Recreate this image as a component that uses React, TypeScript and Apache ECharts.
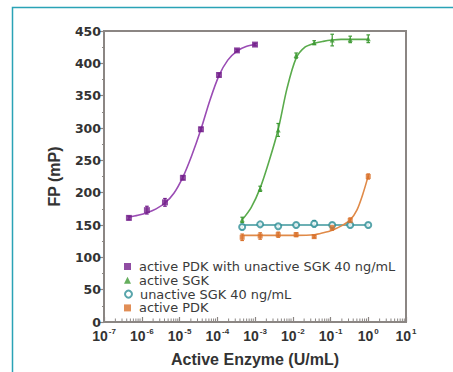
import React, { useEffect, useRef } from "react";
import * as echarts from "echarts";

// ---- data ----
const PDK_SGK_X = [4.57e-7, 1.37e-6, 4.12e-6, 1.23e-5, 3.7e-5, 1.11e-4, 3.33e-4, 1e-3];
const PDK_SGK_Y = [161, 173, 185, 223, 298, 382, 420, 429];
const PDK_SGK_ERR = [3, 6, 6, 3, 3, 3, 2, 2];
// fitted curve
const PDK_SGK_FIT_X = [4.57e-7, 7.9e-7, 1.37e-6, 2.4e-6, 4.12e-6, 7.1e-6, 1.23e-5, 2.1e-5, 3.7e-5, 6.4e-5, 1.11e-4, 1.9e-4, 3.33e-4, 5.8e-4, 1e-3];
const PDK_SGK_FIT_Y = [162, 165, 169, 175, 184, 199, 224, 257, 298, 343, 381, 405, 419, 426, 429];

const SGK_X = [4.57e-4, 1.37e-3, 4.12e-3, 1.23e-2, 3.7e-2, 0.111, 0.333, 1];
const SGK_Y = [158, 206, 297, 412, 432, 436, 437, 438];
const SGK_ERR = [4, 4, 10, 4, 3, 9, 5, 6];
const SGK_FIT_X = [4.57e-4, 7.9e-4, 1.37e-3, 2.4e-3, 4.12e-3, 7.1e-3, 1.23e-2, 2.1e-2, 3.7e-2, 6.4e-2, 0.111, 0.19, 0.333, 0.58, 1];
const SGK_FIT_Y = [158, 177, 207, 250, 298, 362, 408, 425, 431, 434, 436, 437, 437, 437, 437];

const UNSGK_Y = [147, 151, 148, 150, 152, 150, 150, 150];
const UNSGK_ERR = [4, 2, 2, 3, 5, 3, 3, 3];
const UNSGK_FIT = [150, 150, 150, 150, 150, 150, 150, 150];

const PDK_Y = [131, 133, 135, 135, 132, 146, 157, 225];
const PDK_ERR = [5, 5, 4, 3, 2, 4, 4, 4];
const PDK_FIT_X = [4.57e-4, 1.37e-3, 4.12e-3, 1.23e-2, 3.7e-2, 0.0645, 0.111, 0.2, 0.333, 0.5, 0.72, 1];
const PDK_FIT_Y = [134, 134, 134, 134, 135, 138, 142, 149, 158, 173, 198, 226];

const NAMES = [
  "active PDK with unactive SGK 40 ng/mL",
  "active SGK",
  "unactive SGK 40 ng/mL",
  "active PDK",
];
const COLORS = ["#74208c", "#3f9a35", "#2e8f96", "#d9722c"];
const LINE_COLORS = ["#9a4cb4", "#5aab4c", "#3c979c", "#e08a48"];

const X_MIN = 1e-7;
const X_MAX = 10;
const Y_MIN = 0;
const Y_MAX = 450;
const Y_STEP = 50;

const FRAME = "#8b8683";
const TEXT = "#333333";

function pairs(xs: number[], ys: number[]) {
  return xs.map((x, i) => [x, ys[i]]);
}
function errs(xs: number[], ys: number[], es: number[]) {
  return xs.map((x, i) => [x, ys[i] - es[i], ys[i] + es[i]]);
}

function errorSeries(data: number[][], color: string) {
  return {
    type: "custom",
    silent: true,
    z: 3,
    data,
    encode: { x: 0, y: [1, 2] },
    renderItem: (params: any, api: any) => {
      const x = api.value(0);
      const lo = api.coord([x, api.value(1)]);
      const hi = api.coord([x, api.value(2)]);
      const w = 1.8;
      const st = { stroke: color, lineWidth: 1.2 };
      return {
        type: "group",
        children: [
          { type: "line", shape: { x1: lo[0], y1: lo[1], x2: hi[0], y2: hi[1] }, style: st },
          { type: "line", shape: { x1: lo[0] - w, y1: lo[1], x2: lo[0] + w, y2: lo[1] }, style: st },
          { type: "line", shape: { x1: hi[0] - w, y1: hi[1], x2: hi[0] + w, y2: hi[1] }, style: st },
        ],
      };
    },
  };
}

function minorTickValues() {
  const out: number[][] = [];
  for (let e = -7; e < 1; e++) {
    for (let k = 2; k <= 9; k++) out.push([k * Math.pow(10, e), 0]);
  }
  return out;
}

export default function App() {
  const ref = useRef<HTMLDivElement>(null);
  useEffect(() => {
    if (!ref.current) return;
    const chart = echarts.init(ref.current, null, { renderer: "svg" });
    const fitLine = (data: number[][], color: string) => ({
      type: "line",
      data,
      smooth: 0.3,
      showSymbol: false,
      symbol: "none",
      silent: true,
      z: 2,
      lineStyle: { color, width: 1.6 },
    });
    chart.setOption({
      animation: false,
      backgroundColor: "#ffffff",
      textStyle: { fontFamily: "Liberation Sans, Arial, sans-serif" },
      graphic: [
        {
          type: "rect",
          shape: { x: 12.5, y: 7.5, width: 600, height: 600 },
          style: { fill: "none", stroke: "#2aa3b6", lineWidth: 1.5 },
          silent: true,
        },
      ],
      grid: {
        left: 104,
        top: 31,
        right: 47,
        bottom: 45,
        show: true,
        borderColor: FRAME,
        borderWidth: 2,
        backgroundColor: "transparent",
      },
      legend: NAMES.map((n, i) => ({
        left: 124,
        top: 260 + i * 13.8,
        orient: "vertical",
        itemGap: 0,
        itemWidth: 7,
        itemHeight: 7,
        padding: 0,
        selectedMode: false,
        textStyle: {
          fontFamily: "DejaVu Sans, sans-serif",
          fontSize: 12.9,
          color: "#3a3a3a",
          padding: [0, 0, 0, 3],
        },
        data: [{ name: n }],
      })),
      xAxis: {
        type: "log",
        logBase: 10,
        min: X_MIN,
        max: X_MAX,
        splitNumber: 8,
        axisLine: { lineStyle: { color: FRAME, width: 2 } },
        axisTick: { inside: true, length: 5, lineStyle: { color: FRAME, width: 1.2 } },
        splitLine: { show: false },
        axisLabel: {
          margin: 5,
          formatter: (v: number) => {
            const e = Math.round(Math.log10(v));
            return `{b|10}{s|${e}}`;
          },
          rich: {
            b: {
              fontFamily: "Liberation Sans, Arial, sans-serif",
              fontWeight: "bold",
              fontSize: 14,
              color: TEXT,
              lineHeight: 16,
              verticalAlign: "bottom",
            },
            s: {
              fontFamily: "Liberation Sans, Arial, sans-serif",
              fontWeight: "bold",
              fontSize: 8,
              color: TEXT,
              lineHeight: 16,
              verticalAlign: "top",
              padding: [0, 0, 0, 1],
            },
          },
        },
        name: "Active Enzyme (U/mL)",
        nameLocation: "middle",
        nameGap: 29,
        nameTextStyle: {
          fontFamily: "Liberation Sans, Arial, sans-serif",
          fontWeight: "bold",
          fontSize: 16,
          color: TEXT,
        },
      },
      yAxis: {
        type: "value",
        min: Y_MIN,
        max: Y_MAX,
        interval: Y_STEP,
        axisLine: { show: true, lineStyle: { color: FRAME, width: 2 } },
        axisTick: { show: true, length: 4, lineStyle: { color: FRAME, width: 1.2 } },
        minorTick: { show: true, splitNumber: 2, length: 2, lineStyle: { color: FRAME } },
        splitLine: { show: false },
        axisLabel: {
          margin: 3,
          fontFamily: "DejaVu Sans, sans-serif",
          fontWeight: "bold",
          fontSize: 12.5,
          color: TEXT,
        },
        name: "FP (mP)",
        nameLocation: "middle",
        nameGap: 42,
        nameTextStyle: {
          fontFamily: "Liberation Sans, Arial, sans-serif",
          fontWeight: "bold",
          fontSize: 16,
          color: TEXT,
        },
      },
      series: [
        {
          type: "custom",
          silent: true,
          z: 1,
          data: minorTickValues(),
          encode: { x: 0, y: 1 },
          renderItem: (params: any, api: any) => {
            const p = api.coord([api.value(0), api.value(1)]);
            return {
              type: "line",
              shape: { x1: p[0], y1: p[1] - 1, x2: p[0], y2: p[1] - 3.5 },
              style: { stroke: FRAME, lineWidth: 1 },
            };
          },
        },
        fitLine(pairs(PDK_SGK_FIT_X, PDK_SGK_FIT_Y), LINE_COLORS[0]),
        fitLine(pairs(SGK_FIT_X, SGK_FIT_Y), LINE_COLORS[1]),
        fitLine(pairs(SGK_X, UNSGK_FIT), LINE_COLORS[2]),
        fitLine(pairs(PDK_FIT_X, PDK_FIT_Y), LINE_COLORS[3]),
        errorSeries(errs(PDK_SGK_X, PDK_SGK_Y, PDK_SGK_ERR), COLORS[0]),
        errorSeries(errs(SGK_X, SGK_Y, SGK_ERR), COLORS[1]),
        errorSeries(errs(SGK_X, UNSGK_Y, UNSGK_ERR), COLORS[2]),
        errorSeries(errs(SGK_X, PDK_Y, PDK_ERR), COLORS[3]),
        {
          name: NAMES[0],
          type: "scatter",
          data: pairs(PDK_SGK_X, PDK_SGK_Y),
          symbol: "rect",
          symbolSize: 6,
          z: 4,
          itemStyle: { color: COLORS[0] },
        },
        {
          name: NAMES[1],
          type: "scatter",
          data: pairs(SGK_X, SGK_Y),
          symbol: "triangle",
          symbolSize: 5,
          z: 4,
          itemStyle: { color: COLORS[1] },
        },
        {
          name: NAMES[2],
          type: "scatter",
          data: pairs(SGK_X, UNSGK_Y),
          symbol: "emptyCircle",
          symbolSize: 6,
          z: 4,
          itemStyle: { color: COLORS[2], borderColor: COLORS[2], borderWidth: 1.3 },
        },
        {
          name: NAMES[3],
          type: "scatter",
          data: pairs(SGK_X, PDK_Y),
          symbol: "rect",
          symbolSize: 5,
          z: 4,
          itemStyle: { color: COLORS[3] },
        },
      ],
    });
    return () => chart.dispose();
  }, []);
  return (
    <div
      ref={ref}
      style={{ position: "fixed", left: 0, top: 0, width: 453, height: 372 }}
    />
  );
}
